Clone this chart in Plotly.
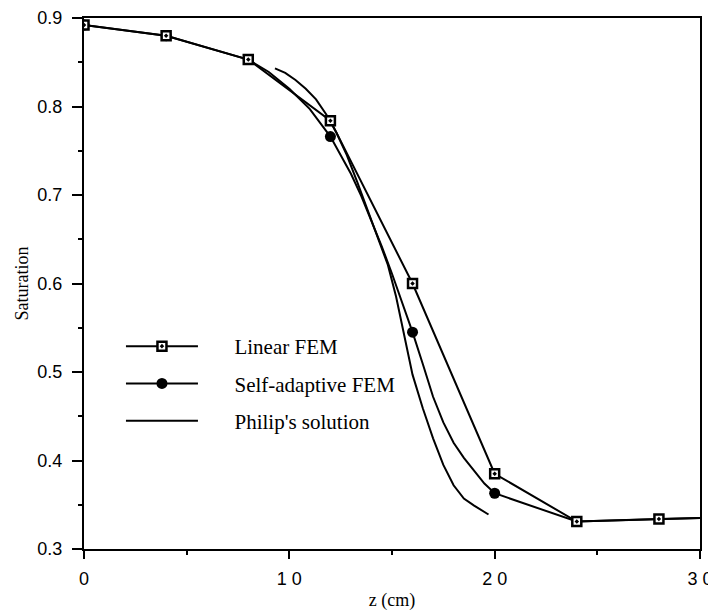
import plotly.graph_objects as go

# ---- data ----
linear_z = [0, 4, 8, 12, 16, 20, 24, 28, 30]
linear_s = [0.892, 0.880, 0.853, 0.784, 0.600, 0.385, 0.331, 0.334, 0.335]
linear_is_node = [1, 1, 1, 1, 1, 1, 1, 1, 0]

adaptive_z = [0, 4, 8, 9, 10, 11, 12, 12.5, 13, 13.5, 14, 14.5, 15, 15.5, 16,
              16.5, 17, 17.5, 18, 18.5, 19, 19.5, 20, 24, 28, 30]
adaptive_s = [0.892, 0.880, 0.853, 0.839, 0.820, 0.797, 0.766, 0.745, 0.724, 0.699,
              0.671, 0.642, 0.611, 0.578, 0.545, 0.509, 0.472, 0.443, 0.420, 0.403,
              0.388, 0.374, 0.363, 0.331, 0.334, 0.335]
adaptive_is_node = [1, 1, 1, 0, 0, 0, 1, 0, 0, 0, 0, 0, 0, 0, 1,
                    0, 0, 0, 0, 0, 0, 0, 1, 0, 0, 0]

philip_z = [9.3, 9.8, 10.3, 10.8, 11.3, 11.8, 12.3, 12.8, 13.3, 13.8, 14.3, 14.8,
            15.2, 15.6, 16.0, 16.5, 17.0, 17.5, 18.0, 18.5, 19.0, 19.7]
philip_s = [0.843, 0.838, 0.830, 0.820, 0.808, 0.791, 0.770, 0.745, 0.715, 0.683,
            0.652, 0.621, 0.585, 0.540, 0.497, 0.459, 0.425, 0.395, 0.372, 0.357,
            0.349, 0.339]

x_tickvals = [0, 10, 20, 30]
x_ticktext = ["0", "1 0", "2 0", "3 0"]
y_tickvals = [0.3, 0.4, 0.5, 0.6, 0.7, 0.8, 0.9]

names = ["Linear FEM", "Self-adaptive FEM", "Philip's solution"]
PAD = "\u00a0" * 6

SERIF = "Liberation Serif, Times New Roman, serif"
SANS = "Liberation Sans, Arial, Helvetica, sans-serif"
BLACK = "black"
CLEAR = "rgba(0,0,0,0)"

fig = go.Figure()

fig.add_trace(go.Scatter(
    x=philip_z, y=philip_s, mode="lines", name=PAD + names[2], legendrank=3,
    legendgroup="c", line=dict(color=BLACK, width=2),
))

fig.add_trace(go.Scatter(
    x=adaptive_z, y=adaptive_s, mode="lines+markers", name=PAD + names[1], legendrank=2,
    legendgroup="b", line=dict(color=BLACK, width=2),
    marker=dict(symbol="circle", size=11,
                color=[BLACK if n else CLEAR for n in adaptive_is_node],
                line=dict(width=0)),
))

fig.add_trace(go.Scatter(
    x=linear_z, y=linear_s, mode="lines+markers", name=PAD + names[0], legendrank=1,
    legendgroup="a", line=dict(color=BLACK, width=2),
    marker=dict(symbol="square-dot", size=9,
                color=["white" if n else CLEAR for n in linear_is_node],
                line=dict(width=2.5, color=[BLACK if n else CLEAR for n in linear_is_node])),
))

# page body adds an 8px offset; the figure is sized to fit the 716x613 window
fig.update_layout(
    width=708, height=605,
    margin=dict(l=76, r=16, t=10, b=64, autoexpand=False),
    paper_bgcolor="white", plot_bgcolor="white",
    showlegend=True,
    legend=dict(
        x=0.06, y=0.42, xanchor="left", yanchor="top",
        bgcolor=CLEAR, borderwidth=0,
        font=dict(family=SERIF, size=21, color=BLACK),
        itemwidth=72, traceorder="grouped", tracegroupgap=7,
    ),
    xaxis=dict(
        range=[0, 30], tickvals=x_tickvals, ticktext=x_ticktext,
        ticks="outside", ticklen=8, tickwidth=2, tickcolor=BLACK,
        showline=True, linecolor=BLACK, linewidth=2, mirror=True,
        showgrid=False, zeroline=False, automargin=False,
        ticklabelstandoff=4, ticklabeloverflow="allow",
        tickfont=dict(family=SANS, size=18, color=BLACK),
        minor=dict(dtick=5, ticks="outside", ticklen=4, tickwidth=2, tickcolor=BLACK, showgrid=False),
        title=dict(text="z (cm)", font=dict(family=SERIF, size=18, color=BLACK), standoff=6),
    ),
    yaxis=dict(
        range=[0.3, 0.9], tickvals=y_tickvals, tickformat=".1f",
        ticks="outside", ticklen=10, tickwidth=2, tickcolor=BLACK,
        showline=True, linecolor=BLACK, linewidth=2, mirror=True,
        showgrid=False, zeroline=False, automargin=False,
        ticklabelstandoff=6, ticklabeloverflow="allow",
        tickfont=dict(family=SANS, size=18, color=BLACK),
        minor=dict(dtick=0.05, ticks="outside", ticklen=4, tickwidth=2, tickcolor=BLACK, showgrid=False),
        title=dict(text="Saturation", font=dict(family=SERIF, size=18, color=BLACK), standoff=4),
    ),
)

fig.write_html("out.html")
